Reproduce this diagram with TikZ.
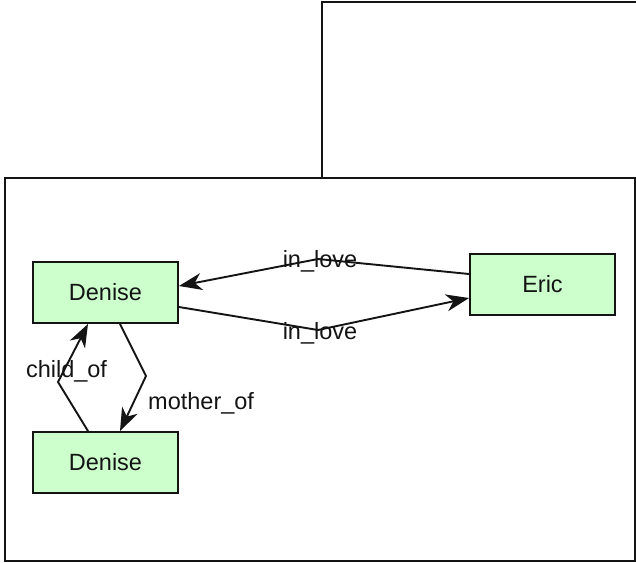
\documentclass[tikz,border=0pt]{standalone}
\usepackage{fontspec}
\setmainfont{Liberation Sans}
\usetikzlibrary{arrows.meta}
\definecolor{entityfill}{HTML}{CCFFCC}
\definecolor{ink}{HTML}{141414}
\tikzset{
  entity/.style={draw=ink, line width=1.9pt, fill=entityfill, minimum width=145pt,
    minimum height=61pt, inner sep=0pt, text=ink, font=\fontsize{23.5}{28}\selectfont},
  frame/.style={draw=ink, line width=1.6pt},
  rel/.style={draw=ink, line width=1.9pt, line join=round,
    -{Stealth[length=23pt, width=17pt, inset=7pt]}},
  rellabel/.style={text=ink, inner sep=0pt, font=\fontsize{23.5}{28}\selectfont}
}
\begin{document}
\begin{tikzpicture}[x=1pt, y=-1pt]
  \clip (0,0) rectangle (636,562);
  \useasboundingbox (0,0) rectangle (636,562);
  \fill[white] (0,0) rectangle (636,562);

  % containers
  \draw[frame] (322,178) -- (322,2) -- (645,2);
  \draw[frame] (5,178) rectangle (635,561);

  % entities
  \node[entity] (d1) at (105.5,292.5) {Denise};
  \node[entity] (d2) at (105.5,462.5) {Denise};
  \node[entity] (eric) at (542.5,284.5) {Eric};

  % bend points
  \coordinate (topbend) at (318,259);
  \coordinate (botbend) at (318,330);
  \coordinate (childbend) at (58,382);
  \coordinate (motherbend) at (146,376);

  % relations
  \draw[rel] ([yshift=10.5pt]eric.west) -- (topbend) -- ([yshift=6.5pt]d1.east);
  \draw[rel] ([yshift=-14.5pt]d1.east) -- (botbend) -- ([yshift=-13.5pt]eric.west);
  \draw[rel] ([xshift=-17.5pt]d2.north) -- (childbend) -- ([xshift=-17.5pt]d1.south);
  \draw[rel] ([xshift=14.5pt]d1.south) -- (motherbend) -- ([xshift=14.5pt]d2.north);

  % labels
  \node[rellabel, anchor=base] (lbltop) at (320,267) {in\_love};
  \node[rellabel, anchor=base] (lblbot) at (320,339) {in\_love};
  \node[rellabel, anchor=base] (lblchild) at (66.5,377) {child\_of};
  \node[rellabel, anchor=base west] (lblmother) at (148,409) {mother\_of};
\end{tikzpicture}
\end{document}
